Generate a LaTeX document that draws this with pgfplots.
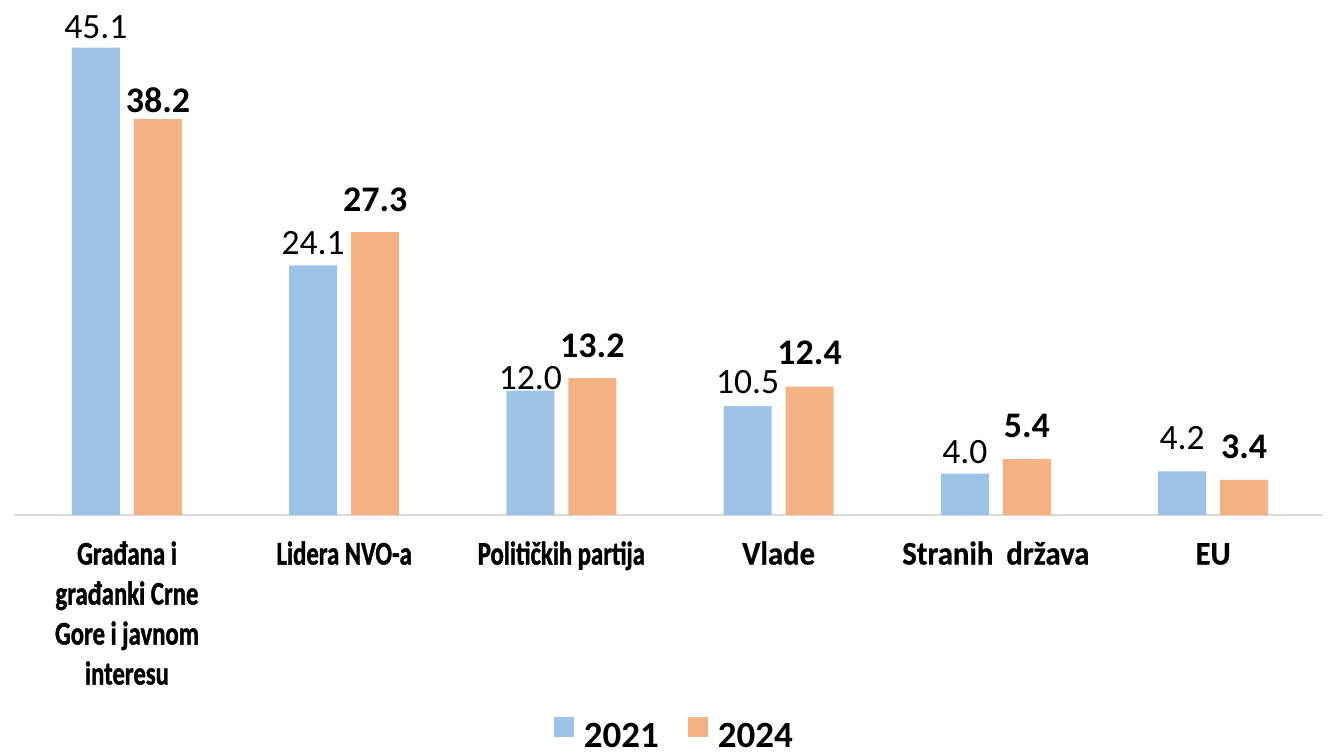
\documentclass[border=0pt]{standalone}
\usepackage{fontspec}
\setmainfont{Carlito}
\newfontfamily\cbf[FakeStretch=0.75,FakeBold=1.2]{Carlito Bold}
\newfontfamily\sbf[FakeStretch=0.93,FakeBold=0.6]{Carlito Bold}
\usepackage{pgfplots}
\usepackage{pgfplotstable}
\pgfplotsset{compat=1.18}
\definecolor{c21}{RGB}{157,195,230}
\definecolor{c24}{RGB}{244,177,131}
\definecolor{axisgray}{RGB}{217,217,217}
\newcommand\ph{\vphantom{Ld}}
\pgfplotstableread{
x y off
0 45.1 1
1 24.1 1.5
2 12.0 -3
3 10.5 2.5
4 4.0 1.5
5 4.2 7.5
}\dataA
\pgfplotstableread{
x y off
0 38.2 -0.5
1 27.3 6.5
2 13.2 6.5
3 12.4 7.5
4 5.4 7
5 3.4 7
}\dataB
\begin{document}
\begin{tikzpicture}[x=1pt,y=1pt]
\path[use as bounding box] (0,0) rectangle (667.5,375.5);
\begin{axis}[
  at={(7pt,118pt)}, anchor=south west,
  scale only axis, width=654.5pt, height=257.5pt,
  xmin=-0.52, xmax=5.506, ymin=0, ymax=49.7,
  ybar=7pt, bar width=24pt,
  axis x line*=bottom, axis y line=none,
  x axis line style={draw=axisgray, line width=1pt, -},
  xtick={0,...,5},
  xticklabels={{\cbf\ph Građana i\\\cbf građanki Crne\\\cbf Gore i javnom\\\cbf interesu},
    {\cbf\ph Lidera NVO-a},{\cbf\ph Političkih partija},
    {\sbf\ph Vlade},{\sbf\ph Stranih\hspace{3pt} država},{\sbf\ph EU}},
  major tick length=0pt,
  xticklabel style={font=\fontsize{16.5}{20}\selectfont, align=center, anchor=north, inner sep=0pt, yshift=-13pt},
  ytick=\empty,
  clip=false,
  /pgf/number format/assume math mode=true,
  nodes near coords={\pgfmathprintnumber[fixed, fixed zerofill, precision=1, assume math mode=true]{\pgfplotspointmeta}},
  legend style={at={(axis description cs:0.5057,-0.467)}, anchor=south, draw=none, inner sep=0pt, outer sep=0pt,
    font=\bfseries\fontsize{18.5}{18.5}\selectfont, nodes={inner sep=2.5pt},
    /tikz/every even column/.append style={column sep=12pt}},
  legend columns=2,
]
\addplot[fill=c21, draw=none,
  visualization depends on={\thisrow{off}\as\myoff},
  every node near coord/.append style={font=\fontsize{17.8}{17.8}\selectfont, text=black, yshift=\myoff pt},
  legend image code/.code={\fill[c21] (0pt,0pt) rectangle (10pt,10pt);}]
  table[x=x, y=y] {\dataA};
\addplot[fill=c24, draw=none,
  visualization depends on={\thisrow{off}\as\myoff},
  every node near coord/.append style={font=\bfseries\fontsize{18}{18}\selectfont, text=black, yshift=\myoff pt},
  legend image code/.code={\fill[c24] (0pt,0pt) rectangle (10pt,10pt);}]
  table[x=x, y=y] {\dataB};
\legend{\hspace{2.5pt}2021,\hspace{2.5pt}2024}
\end{axis}
\end{tikzpicture}
\end{document}
